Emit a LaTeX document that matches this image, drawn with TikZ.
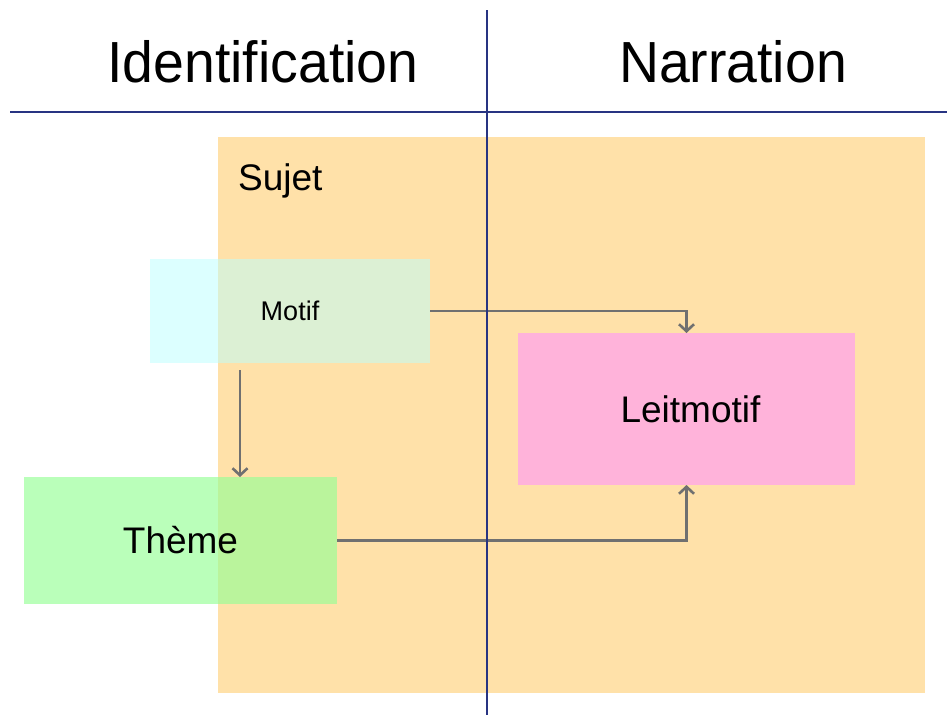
\documentclass[tikz,border=0pt]{standalone}
\usepackage{fontspec}
\usepackage{graphicx}
\setmainfont{Liberation Sans}
\usetikzlibrary{arrows.meta}
\definecolor{sujetc}{RGB}{255,225,169}
\definecolor{motifc}{RGB}{187,255,255}
\definecolor{themec}{RGB}{150,255,150}
\definecolor{leitc}{RGB}{255,179,218}
\definecolor{linec}{RGB}{40,52,130}
\definecolor{arrc}{RGB}{112,112,112}
\tikzset{
  boxnode/.style={inner sep=0pt, outer sep=0pt, anchor=north west},
  arr/.style={draw=arrc, line width=2.6pt, -{Straight Barb[length=7pt,width=15pt,line width=2.6pt]}},
  rule/.style={draw=linec, line width=2.4pt},
  title/.style={font=\fontsize{58}{60}\selectfont, inner sep=0pt},
}
\begin{document}
\begin{tikzpicture}[x=1pt,y=-1pt]
\useasboundingbox (0,0) rectangle (947,715);
\fill[white] (0,0) rectangle (947,715);
% Sujet background
\node[boxnode, fill=sujetc, minimum width=707pt, minimum height=556pt] (sujet) at (218,137) {};
\node[anchor=base west, inner sep=0pt, font=\fontsize{37}{40}\selectfont] (sujetlbl) at (238,190) {Sujet};
% boxes
\node[boxnode, fill=motifc, fill opacity=0.5, text opacity=1, minimum width=280pt, minimum height=104pt, font=\fontsize{27}{30}\selectfont] (motif) at (150,259) {Motif};
\node[boxnode, fill=themec, fill opacity=0.65, text opacity=1, minimum width=313pt, minimum height=127pt, font=\fontsize{37}{40}\selectfont] (theme) at (24,477) {Thème};
\node[boxnode, fill=leitc, minimum width=337pt, minimum height=152pt, font=\fontsize{37}{40}\selectfont, text width=337pt, align=center] (leit) at (518,333) {\hspace*{8pt}Leitmotif};
% connectors
\coordinate (m1) at (240,370);
\draw[arr] (motif.east) -| (leit.north);
\draw[arr] (m1) -- (theme.north -| m1);
\draw[arr] (theme.east) -| (leit.south);
% titles
\node[title] (tid) at (263,62) {\scalebox{0.955}[1]{Identification}};
\node[title] (tnar) at (733,62) {\scalebox{0.955}[1]{Narration}};
% rules
\coordinate (h1) at (10,112);
\coordinate (h2) at (947,112);
\coordinate (v1) at (487,10);
\coordinate (v2) at (487,715);
\draw[rule] (h1) -- (h2);
\draw[rule] (v1) -- (v2);
\end{tikzpicture}
\end{document}
